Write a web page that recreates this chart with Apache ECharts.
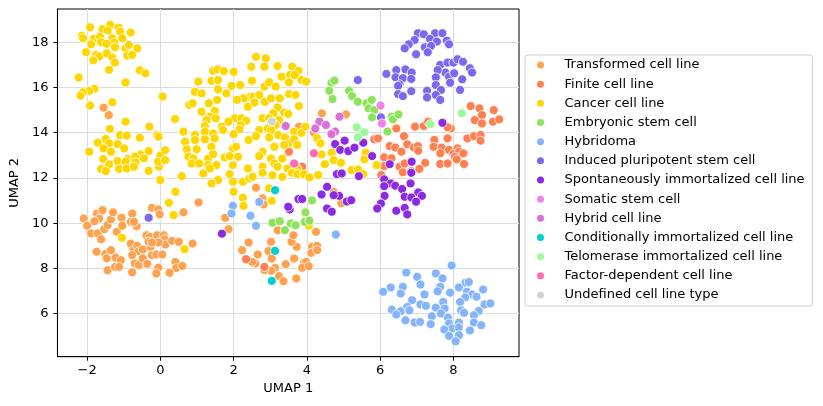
<!DOCTYPE html>
<html>
<head>
<meta charset="UTF-8">
<title>UMAP cell lines</title>
<script src="https://cdn.jsdelivr.net/npm/echarts@6.0.0/dist/echarts.min.js"></script>
<style>
  html, body { margin: 0; padding: 0; background: #fff; }
  #chart { width: 823px; height: 406px; }
</style>
</head>
<body>
<div id="chart"></div>
<script>
// axis ticks
const xTicks = [-2, 0, 2, 4, 6, 8];
const yTicks = [6, 8, 10, 12, 14, 16, 18];

// legend order (same as the reference)
const typeNames = [
  'Transformed cell line', 'Finite cell line', 'Cancer cell line', 'Embryonic stem cell',
  'Hybridoma', 'Induced pluripotent stem cell', 'Spontaneously immortalized cell line',
  'Somatic stem cell', 'Hybrid cell line', 'Conditionally immortalized cell line',
  'Telomerase immortalized cell line', 'Factor-dependent cell line', 'Undefined cell line type'
];
const typeColors = [
  '#ffa24f', '#ff7f50', '#ffd700', '#8fe35c', '#84b4fa', '#7b68ee', '#8a2be2',
  '#ee82ee', '#da70d6', '#00ced1', '#98fb98', '#ff69b4', '#d3d3d3'
];

// points [UMAP 1, UMAP 2]
const transformed = [
  [-1.55,15.11],[-1.41,14.78],[3.11,14.89],[3.78,14.27],
  [-2.09,10.21],[-2.0,9.89],[-1.89,9.55],[-1.73,10.43],[-1.58,10.58],[-1.67,10.21],[-1.80,10.09],[-1.71,9.55],
  [-1.62,9.29],[-1.53,9.74],[-1.44,9.92],[-1.35,10.17],[-1.29,10.48],[-1.19,9.62],[-1.06,10.24],[-1.04,9.89],
  [-0.77,10.43],[-0.81,10.06],[-0.65,9.87],[-0.72,10.06],[-1.74,8.74],[-1.50,8.64],[-1.46,8.45],[-1.35,8.81],
  [-1.22,8.48],[-1.08,8.37],[-1.44,7.92],[-1.24,8.07],[-1.13,8.07],[-0.81,9.10],[-0.74,8.81],[-0.63,9.0],
  [-0.59,8.76],[-0.48,8.84],[-0.77,8.59],[-0.70,8.22],[-0.59,8.15],[-0.48,8.45],[-0.36,8.20],[-0.77,7.83],
  [-0.38,9.47],[-0.29,9.40],[-0.23,10.68],[-0.06,10.61],[-0.02,10.39],[-0.27,8.96],[-0.23,8.59],[-0.11,8.62],
  [0.05,8.62],[-0.32,9.18],[-0.09,9.47],[0.09,9.47],[0.11,9.29],[0.14,9.06],[-0.05,9.15],[-0.23,9.15],
  [0.32,9.22],[0.50,9.18],[0.88,9.10],[0.41,8.29],[0.43,8.02],[0.60,8.11],[-0.06,8.03],[-0.11,7.78],
  [0.25,7.81],[0.63,10.48],[1.04,10.92],
  [2.61,11.57],[2.79,11.10],[2.82,10.83],[1.77,10.24],[1.86,9.74],[2.41,9.15],[2.23,8.81],[2.66,8.62],
  [2.59,8.22],[2.50,8.29],[3.02,9.18],[2.95,8.77],[3.04,8.44],[3.13,8.03],[3.02,7.90],[2.84,7.93],
  [3.24,7.66],[3.36,7.44],[3.71,7.56],[3.42,8.19],[3.65,8.44],[3.72,8.96],[3.58,9.18],[3.63,9.47],
  [3.20,9.69],[4.25,9.62],[4.14,8.96],[4.28,9.0],[4.12,8.69],[4.28,8.81],[3.92,8.26],[3.98,8.29],
  [3.87,8.03],[4.05,8.10],[4.73,11.39],[4.94,10.88],
  [4.41,14.86],[5.07,14.81],[4.19,14.00],[5.58,12.91]
];
const finite = [
  [3.51,13.16],[2.34,8.41],[2.84,8.07],[3.87,12.50],
  [6.44,14.19],[6.95,14.27],[7.19,14.30],[7.31,14.49],[7.93,14.19],[7.84,14.24],[8.47,15.18],[8.71,15.08],
  [9.10,15.0],[8.78,14.78],[8.58,14.56],[8.78,14.41],[9.08,14.49],[9.25,14.59],[8.38,13.75],[8.56,13.85],
  [8.74,13.90],[8.74,13.65],[5.84,13.71],[5.94,13.75],[6.65,13.85],[6.26,13.41],[6.41,13.35],[6.58,13.16],
  [6.74,13.49],[6.92,13.35],[7.03,13.41],[7.04,13.20],[7.48,13.68],[7.84,13.75],[7.46,13.38],[7.68,13.34],
  [7.88,13.24],[7.64,13.09],[8.11,13.31],[8.00,13.06],[8.15,13.16],[8.27,13.09],[8.04,12.94],[7.64,12.62],
  [7.84,12.64],[8.09,12.82],[8.29,12.62],[6.11,12.91],[6.31,12.87],[6.11,12.53],[6.53,12.50],[6.67,12.64],
  [7.23,12.67],[6.62,12.25],[6.85,12.30],[7.07,12.40],[6.03,12.13]
];
const cancer = [
  [-1.92,18.66],[-1.37,18.77],[-1.58,18.58],[-1.14,18.65],[-1.44,18.52],[-1.10,18.47],[-0.81,18.43],[-2.14,18.29],
  [-2.11,18.18],[-1.82,18.15],[-1.65,18.24],[-1.31,18.18],[-1.26,17.99],[-1.04,18.18],[-1.62,18.0],[-1.89,17.91],
  [-1.47,17.93],[-1.24,17.78],[-0.95,17.73],[-0.86,17.88],[-0.63,17.73],[-2.03,17.56],[-1.76,17.44],[-1.67,17.37],
  [-1.46,17.51],[-1.31,17.32],[-0.90,17.41],[-0.77,17.44],[-1.83,17.20],[-1.24,17.10],[-1.40,16.78],[-0.56,16.76],
  [-0.41,16.63],[-2.23,16.44],[-0.95,16.22],[-1.80,15.94],[-1.94,15.85],[-2.12,15.79],[-2.18,15.64],[0.06,15.60],
  [-1.31,15.35],[-1.92,15.20],[-0.95,14.49],[-0.30,14.27],[-1.38,14.17],[-1.10,13.90],[-0.92,13.87],[-0.09,13.90],
  [-0.05,13.83],[-0.56,13.78],[-1.49,13.72],[-1.71,13.56],[-1.40,13.53],[-1.17,13.50],[-1.94,13.16],[-1.55,13.31],
  [-0.99,13.31],[-1.35,13.16],[-0.54,13.04],[-0.32,13.19],[-0.90,12.84],[-1.56,12.84],[-0.69,12.94],[-0.45,12.87],
  [0.0,12.99],[-1.40,12.60],[-1.17,12.75],[-0.95,12.72],[-0.68,12.69],[-1.62,12.40],[-1.49,12.31],[-1.13,12.40],
  [-0.92,12.42],[-0.72,12.50],[-0.32,12.32],[-0.04,12.50],[-0.06,12.72],[0.0,11.91],
  [2.61,17.36],[2.88,17.29],[3.20,16.95],[2.48,16.92],[2.84,16.92],[3.60,16.92],[3.77,16.74],[1.44,16.74],
  [1.56,16.80],[1.73,16.73],[2.0,16.69],[3.31,16.48],[3.54,16.55],[3.67,16.55],[2.50,16.30],[3.51,16.23],
  [3.85,16.33],[1.035,16.26],[1.395,16.29],[1.575,16.33],[1.94,16.07],[2.18,16.11],[2.84,16.04],[2.97,16.23],
  [3.15,16.04],[1.575,15.92],[1.80,15.74],[0.945,15.81],[1.125,15.74],[2.45,15.59],[2.27,15.52],[2.09,15.45],
  [2.54,15.59],[2.70,15.67],[2.85,15.37],[3.02,15.52],[3.26,15.52],[3.51,15.71],[3.69,15.67],[3.78,15.18],
  [1.55,15.45],[1.32,15.30],[0.79,15.23],[0.88,15.30],[1.485,14.97],[1.125,14.93],[2.39,15.15],[2.57,15.33],
  [3.20,15.12],[3.38,14.89],[3.49,14.83],[3.08,14.86],[0.40,14.61],[1.35,14.71],[1.26,14.56],[1.51,14.64],
  [2.03,14.64],[2.21,14.64],[2.34,14.53],[2.79,14.64],[2.97,14.64],[3.24,14.56],[2.19,14.34],[1.86,14.49],
  [1.68,14.27],[1.215,14.30],[2.16,14.15],[1.71,14.12],[2.70,14.12],[2.93,14.19],[3.15,14.34],[3.02,14.12],
  [3.65,14.05],[3.85,14.00],[0.63,14.05],[0.945,13.90],[1.215,14.05],[1.44,13.97],[0.675,13.60],[0.945,13.68],
  [1.215,13.71],[1.485,13.75],[2.0,13.94],[2.41,13.68],[2.61,13.85],[2.97,13.79],[3.22,13.90],[3.40,13.79],
  [3.51,13.53],[3.65,13.71],[0.13,13.23],[0.72,13.27],[0.99,13.27],[1.395,13.38],[1.98,13.31],[2.07,13.38],
  [2.79,13.16],[3.11,13.38],[3.38,13.46],[3.74,13.46],[0.765,12.94],[0.90,12.86],[1.305,12.86],[1.44,13.06],
  [1.755,12.91],[1.89,12.97],[2.12,12.94],[2.70,12.97],[3.02,12.86],[3.33,12.86],[0.13,12.79],[0.855,12.64],
  [1.06,12.64],[1.305,12.57],[1.53,12.57],[1.35,12.42],[1.98,12.57],[2.39,12.42],[2.79,12.50],[3.11,12.64],
  [3.20,12.50],[3.47,12.42],[3.74,12.42],[0.585,12.08],[1.17,12.20],[1.575,11.91],[1.395,11.76],[1.89,12.17],
  [1.98,11.83],[2.25,11.83],[2.43,11.98],[2.52,12.05],[2.79,12.23],[3.06,12.13],[3.33,12.05],[3.59,12.23],
  [3.74,12.17],
  [0.41,11.39],[0.23,10.90],[0.36,10.36],[-1.05,9.36],[0.66,8.85],
  [2.0,11.39],[2.25,11.13],[2.27,10.77],[3.04,10.99],[2.97,11.54],[4.05,9.89],
  [3.98,16.26],[3.96,14.27],[4.28,13.75],[4.37,13.53],[4.40,13.04],[4.49,12.61],[4.68,13.12],[4.73,12.79],
  [4.93,12.67],[5.61,13.12],[5.57,12.82],[5.90,12.57],[5.22,12.35],[5.40,12.38],[5.54,12.17],[3.92,12.16],
  [4.07,12.02],[4.31,12.13]
];
const embryonic = [
  [3.06,10.02],[3.26,10.09],[3.40,9.69],[3.56,9.99],[3.69,9.91],[3.94,10.06],[4.07,10.11],[3.96,10.48],
  [4.14,11.01],[4.67,16.21],[4.75,16.30],[4.61,15.86],[4.70,15.49],[5.15,15.86],[5.23,15.62],[5.39,15.37],
  [5.63,15.30],[5.77,15.45],[5.68,15.08],[5.84,15.0],[5.78,14.68],[6.31,14.71],[6.35,14.59],[6.50,14.81],
  [6.20,14.05]
];
const hybridoma = [
  [1.98,10.77],[1.94,10.43],[2.46,10.33],[2.61,9.89],[2.70,10.94],[4.79,9.50],
  [7.95,8.13],[6.71,7.82],[7.52,7.78],[7.70,7.56],[7.01,7.63],[8.33,7.37],[8.42,7.40],[7.10,7.29],
  [6.62,7.19],[6.29,7.16],[7.64,7.19],[8.15,7.16],[8.81,7.07],[6.08,6.97],[6.56,6.89],[7.57,6.99],
  [7.91,6.93],[7.21,6.85],[8.37,6.97],[8.51,6.85],[8.63,6.75],[8.32,6.72],[6.87,6.60],[7.72,6.52],
  [8.18,6.52],[7.10,6.41],[7.25,6.35],[8.85,6.41],[9.01,6.45],[6.74,6.30],[7.52,6.27],[7.76,6.23],
  [6.32,6.18],[6.56,6.11],[6.80,6.15],[8.21,6.15],[8.29,6.04],[8.69,6.12],[6.44,5.96],[7.66,6.01],
  [7.41,5.89],[7.85,5.83],[8.56,5.93],[6.69,5.71],[6.94,5.61],[7.09,5.64],[7.38,5.54],[7.88,5.57],
  [8.15,5.61],[8.56,5.61],[8.76,5.49],[7.97,5.35],[8.15,5.39],[8.45,5.26],[7.75,5.30],[7.88,5.02],
  [8.15,5.05],[8.06,4.78]
];
const induced = [
  [-0.32,10.24],[5.39,16.33],[6.02,14.68],
  [7.03,18.40],[7.19,18.35],[7.50,18.40],[7.70,18.40],[6.94,18.10],[7.36,18.15],[7.55,18.03],[7.82,18.07],
  [7.88,17.91],[6.78,17.91],[6.67,17.73],[7.22,17.78],[7.39,17.84],[6.98,17.47],[7.30,17.56],
  [6.17,16.60],[6.44,16.77],[6.69,16.80],[6.86,16.66],[6.42,16.45],[6.62,16.41],[6.85,16.38],[6.53,16.14],
  [6.49,16.07],[6.85,15.84],[6.49,15.71],[6.62,15.62],[7.64,17.0],[7.84,17.10],[8.00,17.10],[8.11,17.25],
  [8.26,17.14],[7.78,16.66],[7.57,16.77],[7.52,16.45],[7.88,16.48],[8.02,16.63],[8.24,16.36],[8.45,16.85],
  [8.51,16.66],[7.28,15.86],[7.52,16.11],[7.66,15.89],[7.52,15.67],[7.64,15.45],[7.28,15.56],[7.91,16.21],
  [8.18,15.89]
];
const spontaneous = [
  [1.68,9.54],[3.77,11.07],[3.87,11.07],[3.53,10.61],[3.49,10.73],[4.40,11.27],[4.55,10.65],[4.68,10.51],
  [4.88,11.21],[4.73,11.24],[4.55,11.61],
  [7.70,14.44],[5.03,13.65],[4.77,13.50],[4.91,13.24],[5.13,13.19],[5.30,13.34],[5.54,13.56],[5.78,12.97],
  [4.82,12.17],[4.95,12.20],[5.42,12.08],[6.26,12.61],[6.86,12.72],[6.85,12.23],[6.11,11.94],[6.29,11.76],
  [6.83,11.76],
  [6.11,11.64],[6.41,11.66],[6.60,11.51],[7.04,11.36],[7.14,11.21],[6.12,11.21],[6.67,11.17],[6.85,11.14],
  [6.98,10.95],[6.02,10.87],[5.92,10.65],[6.44,10.55],[6.67,10.68],[6.74,10.39],[5.09,10.96],[5.21,11.02]
];
const somatic = [[6.01,15.20],[6.05,14.41]];
const hybrid = [[3.42,14.30],[4.34,14.49],[4.52,14.34],[4.23,14.19],[4.89,14.71],[4.77,14.05],[4.67,13.94]];
const conditional = [[3.13,11.46],[3.13,8.78],[3.04,7.45]];
const telomerase = [[5.36,14.24],[5.57,14.02],[5.39,13.80],[7.37,14.38],[8.23,14.86]];
const factorDep = [[3.65,12.64],[4.19,13.09]];
const undefinedType = [[3.04,14.49]];

const typeData = [transformed, finite, cancer, embryonic, hybridoma, induced, spontaneous,
  somatic, hybrid, conditional, telomerase, factorDep, undefinedType];

const FONT = 'DejaVu Sans';
const fmtTick = ticks => v => ticks.includes(Math.round(v * 1000) / 1000) ? String(v).replace('-', '\u2212') : '';

const chart = echarts.init(document.getElementById('chart'), null, { renderer: 'canvas' });

chart.setOption({
  animation: false,
  backgroundColor: '#fff',
  grid: {
    left: 52.7, right: 304, top: 9, bottom: 49.3,
    show: true, borderColor: '#000', borderWidth: 1, backgroundColor: 'transparent'
  },
  xAxis: {
    type: 'value', min: -2.81, max: 9.79, splitNumber: 6,
    name: 'UMAP 1', nameLocation: 'middle', nameGap: 25,
    nameTextStyle: { fontFamily: FONT, fontSize: 13, color: '#000' },
    axisLine: { show: true, onZero: false, lineStyle: { color: '#000', width: 1 } },
    axisTick: { show: true, inside: false, length: 4, customValues: xTicks, lineStyle: { color: '#000' } },
    axisLabel: { customValues: xTicks, margin: 7, fontFamily: FONT, fontSize: 13, color: '#000', formatter: fmtTick(xTicks) },
    splitLine: { show: true, lineStyle: { color: '#dcdcdc', width: 1 } }
  },
  yAxis: {
    type: 'value', min: 4.10, max: 19.47, splitNumber: 7,
    name: 'UMAP 2', nameLocation: 'middle', nameGap: 30, nameRotate: 90,
    nameTextStyle: { fontFamily: FONT, fontSize: 13, color: '#000' },
    axisLine: { show: true, onZero: false, lineStyle: { color: '#000', width: 1 } },
    axisTick: { show: true, inside: false, length: 4, customValues: yTicks, lineStyle: { color: '#000' } },
    axisLabel: { customValues: yTicks, margin: 9, fontFamily: FONT, fontSize: 13, color: '#000', formatter: fmtTick(yTicks) },
    splitLine: { show: true, lineStyle: { color: '#dcdcdc', width: 1 } }
  },
  legend: {
    orient: 'vertical', left: 525, top: 55,
    padding: [2.5, 8, 3.5, 12],
    itemWidth: 10, itemHeight: 7, itemGap: 4.17,
    icon: 'circle',
    selectedMode: false,
    backgroundColor: '#fff', borderColor: '#d0d0d0', borderWidth: 1, borderRadius: 3,
    itemStyle: { borderWidth: 0 },
    textStyle: { fontFamily: FONT, fontSize: 13, color: '#000', lineHeight: 15, padding: [0, 0, 0, 14] },
    data: typeNames
  },
  series: typeNames.map((name, i) => ({
    name: name,
    type: 'scatter',
    data: typeData[i],
    symbol: 'circle',
    symbolSize: 9,
    itemStyle: { color: typeColors[i], borderColor: '#fff', borderWidth: 0.8, opacity: 1 },
    emphasis: { disabled: true }
  }))
});
</script>
</body>
</html>
